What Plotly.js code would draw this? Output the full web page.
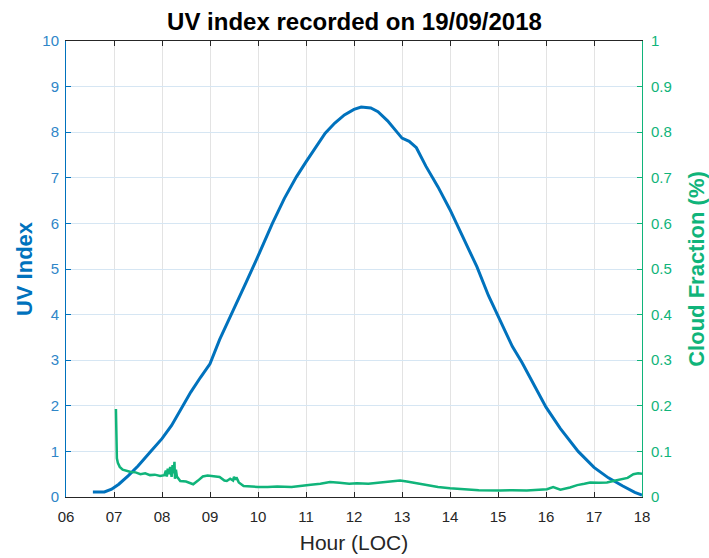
<!DOCTYPE html>
<html>
<head>
<meta charset="utf-8">
<script src="https://cdn.plot.ly/plotly-3.0.1.min.js"></script>
<style>html,body{margin:0;padding:0;background:#fff;}#chart{width:709px;height:558px;}</style>
</head>
<body>
<div id="chart"></div>
<script>
// UV index (left axis)
const uvHour = [6.56, 6.8, 6.95, 7.1, 7.3, 7.5, 7.75, 8.0, 8.2, 8.44, 8.6, 8.8, 9.0, 9.2, 9.5, 9.75, 10.0, 10.3, 10.55, 10.8, 11.0, 11.2, 11.4, 11.6, 11.8, 12.0, 12.15, 12.35, 12.5, 12.7, 12.9, 13.0, 13.15, 13.3, 13.5, 13.75, 14.0, 14.3, 14.56, 14.8, 15.07, 15.3, 15.5, 15.75, 16.0, 16.3, 16.67, 17.0, 17.3, 17.6, 17.85, 18.0];
const uvIndex = [0.11, 0.11, 0.17, 0.28, 0.47, 0.68, 0.98, 1.28, 1.57, 2.0, 2.3, 2.62, 2.92, 3.45, 4.12, 4.7, 5.28, 6.0, 6.55, 7.02, 7.35, 7.68, 7.98, 8.2, 8.38, 8.5, 8.55, 8.53, 8.45, 8.25, 7.98, 7.87, 7.8, 7.66, 7.25, 6.8, 6.3, 5.65, 5.05, 4.42, 3.8, 3.3, 2.95, 2.47, 1.97, 1.5, 1.0, 0.65, 0.42, 0.24, 0.1, 0.04];

// Cloud fraction (right axis)
const cfHour = [7.04, 7.045, 7.06, 7.08, 7.12, 7.18, 7.25, 7.35, 7.45, 7.55, 7.65, 7.75, 7.85, 7.96, 8.05, 8.08, 8.1, 8.12, 8.15, 8.17, 8.2, 8.22, 8.24, 8.26, 8.27, 8.29, 8.31, 8.38, 8.5, 8.65, 8.75, 8.85, 8.95, 9.05, 9.2, 9.3, 9.35, 9.42, 9.48, 9.5, 9.53, 9.55, 9.6, 9.7, 9.8, 10.0, 10.2, 10.4, 10.7, 10.9, 11.1, 11.3, 11.5, 11.7, 11.9, 12.06, 12.3, 12.5, 12.7, 12.96, 13.1, 13.3, 13.5, 13.75, 14.0, 14.3, 14.6, 15.04, 15.3, 15.6, 15.85, 16.02, 16.15, 16.3, 16.5, 16.65, 16.8, 16.92, 17.1, 17.27, 17.4, 17.54, 17.7, 17.82, 17.92, 18.0];
const cfValue = [0.193, 0.12, 0.085, 0.075, 0.066, 0.06, 0.058, 0.055, 0.054, 0.05, 0.052, 0.048, 0.049, 0.046, 0.048, 0.058, 0.045, 0.062, 0.05, 0.066, 0.044, 0.07, 0.052, 0.077, 0.04, 0.06, 0.045, 0.035, 0.034, 0.028, 0.036, 0.045, 0.047, 0.046, 0.044, 0.036, 0.035, 0.04, 0.036, 0.044, 0.038, 0.043, 0.032, 0.024, 0.023, 0.022, 0.022, 0.023, 0.022, 0.025, 0.027, 0.029, 0.033, 0.031, 0.029, 0.03, 0.029, 0.031, 0.033, 0.036, 0.034, 0.03, 0.027, 0.022, 0.019, 0.017, 0.015, 0.014, 0.015, 0.014, 0.016, 0.017, 0.022, 0.016, 0.021, 0.026, 0.029, 0.032, 0.031, 0.032, 0.035, 0.039, 0.042, 0.05, 0.052, 0.051];

const xTickVals = [6, 7, 8, 9, 10, 11, 12, 13, 14, 15, 16, 17, 18];
const xTickText = ["06", "07", "08", "09", "10", "11", "12", "13", "14", "15", "16", "17", "18"];
const yTickVals = [0, 1, 2, 3, 4, 5, 6, 7, 8, 9, 10];
const y2TickVals = [0, 0.1, 0.2, 0.3, 0.4, 0.5, 0.6, 0.7, 0.8, 0.9, 1];
const y2TickText = ["0", "0.1", "0.2", "0.3", "0.4", "0.5", "0.6", "0.7", "0.8", "0.9", "1"];

const BLUE = "#0072BD";
const GREEN = "#10B47A";
const FONT = "Liberation Sans, Arial, sans-serif";

const traces = [
  {x: uvHour, y: uvIndex, type: "scatter", mode: "lines", line: {color: BLUE, width: 3}, yaxis: "y", showlegend: false},
  {x: cfHour, y: cfValue, type: "scatter", mode: "lines", line: {color: GREEN, width: 2.5}, yaxis: "y2", showlegend: false}
];

const layout = {
  width: 709, height: 558,
  margin: {l: 66, r: 67, t: 41, b: 61},
  paper_bgcolor: "#fff", plot_bgcolor: "#fff",
  font: {family: FONT, size: 15, color: "#262626"},
  title: {text: "<b>UV index recorded on 19/09/2018</b>", font: {size: 24, color: "#000", family: FONT}, x: 0.5, xanchor: "center", y: 0.962, yanchor: "middle"},
  xaxis: {
    range: [6, 18], tickvals: xTickVals, ticktext: xTickText,
    showgrid: true, gridcolor: "#e3e3e3", gridwidth: 1,
    showline: true, linecolor: "#262626", linewidth: 1, mirror: "ticks",
    ticks: "inside", ticklen: 5, tickcolor: "#262626",
    tickfont: {size: 15, color: "#262626"}, zeroline: false, ticklabelstandoff: 6,
    title: {text: "Hour (LOC)", font: {size: 21, color: "#262626"}, standoff: 11}
  },
  yaxis: {
    range: [0, 10], tickvals: yTickVals,
    showgrid: true, gridcolor: "#d6e6f3", gridwidth: 1,
    showline: true, linecolor: BLUE, linewidth: 1,
    ticks: "inside", ticklen: 5, tickcolor: BLUE,
    tickfont: {size: 15, color: "#2f86c8"}, zeroline: false, ticklabelstandoff: 3,
    title: {text: "<b>UV Index</b>", font: {size: 22, color: BLUE}, standoff: 3}
  },
  yaxis2: {
    range: [0, 1], tickvals: y2TickVals, ticktext: y2TickText,
    overlaying: "y", side: "right", showgrid: false,
    showline: true, linecolor: GREEN, linewidth: 1,
    ticks: "inside", ticklen: 5, tickcolor: GREEN,
    tickfont: {size: 15, color: GREEN}, zeroline: false, ticklabelstandoff: 5,
    title: {text: "<b>Cloud Fraction (%)</b>", font: {size: 22, color: GREEN}, standoff: 17}
  }
};

Plotly.newPlot("chart", traces, layout, {displayModeBar: false, staticPlot: true});
</script>
</body>
</html>
